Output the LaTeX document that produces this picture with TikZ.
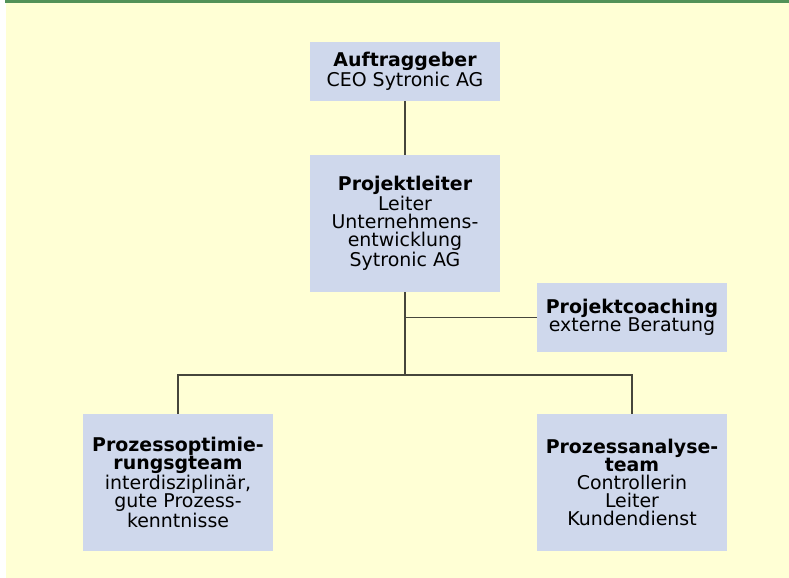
\documentclass[tikz,border=0pt]{standalone}
\usepackage{fontspec}
\setmainfont{DejaVu Sans}
\usepackage{xcolor}
\usepackage{tikz}
\usetikzlibrary{positioning}

\definecolor{bgyellow}{RGB}{255,255,213}
\definecolor{boxblue}{RGB}{207,216,236}
\definecolor{bargreen}{RGB}{82,146,88}
\definecolor{linegray}{RGB}{70,70,60}

\begin{document}
\begin{tikzpicture}[
    x=0.75pt, y=-0.75pt,
    role/.style={rectangle, fill=boxblue, align=center, minimum width=142.5pt, inner sep=0pt, font=\fontsize{14.2}{13.6}\selectfont},
    link/.style={draw=linegray, line width=0.9pt}
]

% Background and top bar
\useasboundingbox (0,0) rectangle (789,578);
\fill[bgyellow] (6,3) rectangle (789,578);
\fill[bargreen] (5,0) rectangle (789,3);

% Top layer
\node[role, minimum height=44.25pt] (auftrag) at (405,71.5) {\textbf{Auftraggeber}\\CEO Sytronic AG};
\node[role, minimum height=102.75pt] (leiter) at (405,223.5) {\textbf{Projektleiter}\\Leiter\\Unternehmens-\\entwicklung\\Sytronic AG};

% Staff position
\node[role, minimum height=51.75pt] (coaching) at (632,317.5) {\textbf{Projektcoaching}\\externe Beratung};

% Team layer
\node[role, minimum height=102.75pt] (optim) at (178,482.5) {\textbf{Prozessoptimie-}\\\textbf{rungsgteam}\\interdisziplinär,\\gute Prozess-\\kenntnisse};
\node[role, minimum height=102.75pt] (analyse) at (632,482.5) {\textbf{Prozessanalyse-}\\\textbf{team}\\Controllerin\\Leiter\\Kundendienst};

% Bus coordinate
\coordinate (bus) at (405,375);

% Connections
\draw[link] (auftrag.south) -- (leiter.north);
\draw[link] (leiter.south) -- (bus);
\draw[link] (leiter.south |- coaching.west) -- (coaching.west);
\draw[link] (optim.north) |- (bus) -| (analyse.north);

\end{tikzpicture}
\end{document}
